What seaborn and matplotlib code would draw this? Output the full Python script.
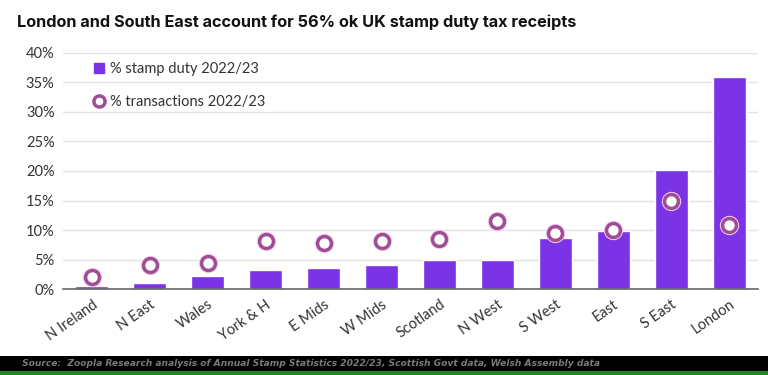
import numpy as np
import pandas as pd
import matplotlib
matplotlib.use("Agg")
import matplotlib.pyplot as plt
from matplotlib.lines import Line2D
from matplotlib.patches import Rectangle
import seaborn as sns

# 数据
regions = ["N Ireland", "N East", "Wales", "York & H", "E Mids", "W Mids",
           "Scotland", "N West", "S West", "East", "S East", "London"]
stamp_duty = [0.5, 1.1, 2.15, 3.2, 3.5, 4.1, 5.0, 5.0, 8.7, 9.8, 20.2, 35.9]
transactions = [2.0, 4.1, 4.5, 8.2, 7.8, 8.2, 8.5, 11.5, 9.5, 9.95, 14.9, 10.8]

df = pd.DataFrame({"region": regions, "stamp": stamp_duty, "trans": transactions})

sns.set_style("white")
plt.rcParams["font.family"] = ["Lato", "DejaVu Sans"]

bar_color = "#7B33E6"
ring_color = "#9E4E92"

fig = plt.figure(figsize=(7.68, 3.75), dpi=100)
ax = fig.add_axes([0.082, 0.229, 0.905, 0.63])

sns.barplot(data=df, x="region", y="stamp", color=bar_color, saturation=1,
            width=0.57, ax=ax, zorder=2)
# 圆圈外的淡粉色光晕
sns.scatterplot(data=df, x="region", y="trans", s=115, color="white",
                edgecolor="#F6CDF3", linewidth=3.2, ax=ax, zorder=3, legend=False)
sns.scatterplot(data=df, x="region", y="trans", s=100, color="white",
                edgecolor=ring_color, linewidth=2.5, ax=ax, zorder=4, legend=False)

ax.set_xlim(-0.5, len(regions) - 0.5)
ax.set_ylim(0, 40)
ax.set_yticks(range(0, 41, 5))
ax.set_yticklabels([f"{v}%" for v in range(0, 41, 5)], fontsize=10.5, color="#333333")
ax.set_xticks(range(len(regions)))
ax.set_xticklabels(regions, rotation=35, ha="right", rotation_mode="anchor",
                   fontsize=10.5, color="#333333")
ax.tick_params(axis="both", length=0, pad=6)
ax.set_xlabel("")
ax.set_ylabel("")
ax.grid(axis="y", color="#E3E3E3", linewidth=1, zorder=0)
for s in ["top", "right", "left"]:
    ax.spines[s].set_visible(False)
ax.spines["bottom"].set_color("#666666")
ax.spines["bottom"].set_linewidth(1.2)

handles = [
    Line2D([], [], marker="s", linestyle="none", markersize=7,
           markerfacecolor=bar_color, markeredgecolor=bar_color),
    Line2D([], [], marker="o", linestyle="none", markersize=8,
           markerfacecolor="white", markeredgecolor=ring_color, markeredgewidth=2.5),
]
ax.legend(handles, ["% stamp duty 2022/23", "% transactions 2022/23"],
          loc="upper left", bbox_to_anchor=(0.021, 1.017), frameon=False,
          fontsize=10.5, labelspacing=1.3, handletextpad=0.1, handlelength=1.2,
          labelcolor="#333333")

fig.text(0.022, 0.94, "London and South East account for 56% ok UK stamp duty tax receipts",
         fontsize=11.7, fontweight="bold", color="#111111", va="center",
         family=["Inter", "DejaVu Sans"])

# 底部来源栏
fig.patches.append(Rectangle((0, 0.011), 1, 0.04, transform=fig.transFigure,
                             facecolor="black", edgecolor="none"))
fig.patches.append(Rectangle((0, 0.0), 1, 0.011, transform=fig.transFigure,
                             facecolor="#1E8A1E", edgecolor="none"))
fig.text(0.028, 0.031,
         "Source:  Zoopla Research analysis of Annual Stamp Statistics 2022/23, Scottish Govt data, Welsh Assembly data",
         fontsize=6.6, fontweight="bold", fontstyle="italic", color="#7A7A7A", va="center",
         family=["DejaVu Sans"])

fig.savefig("out.png", dpi=100)
